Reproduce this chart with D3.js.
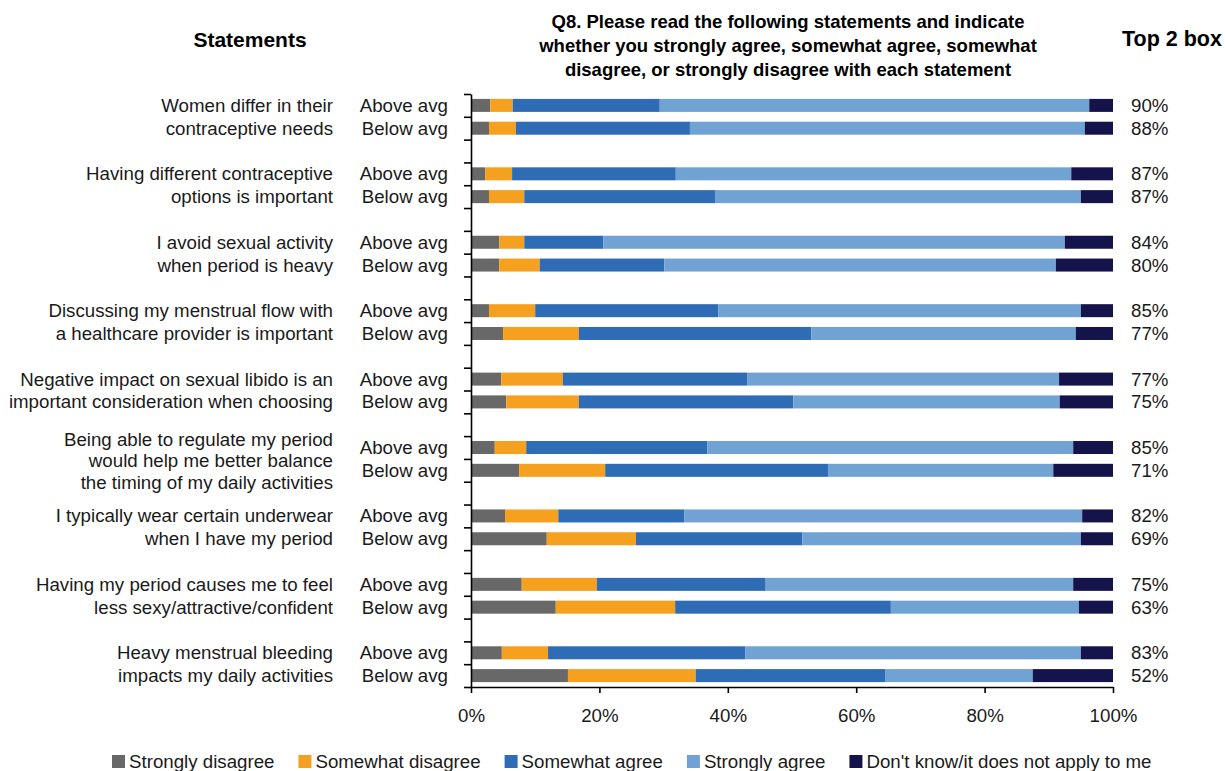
<!DOCTYPE html>
<html>
<head>
<meta charset="utf-8">
<script src="https://cdn.jsdelivr.net/npm/d3@7"></script>
<style>
  body { margin: 0; background: #fff; }
  svg { font-family: "Liberation Sans", Arial, sans-serif; }
</style>
</head>
<body>
<div id="chart"></div>
<script>
// statements (one entry per group, split in display lines)
const statements = [
  ["Women differ in their", "contraceptive needs"],
  ["Having different contraceptive", "options is important"],
  ["I avoid sexual activity", "when period is heavy"],
  ["Discussing my menstrual flow with", "a healthcare provider is important"],
  ["Negative impact on sexual libido is an", "important consideration when choosing"],
  ["Being able to regulate my period", "would help me better balance", "the timing of my daily activities"],
  ["I typically wear certain underwear", "when I have my period"],
  ["Having my period causes me to feel", "less sexy/attractive/confident"],
  ["Heavy menstrual bleeding", "impacts my daily activities"],
];
const subgroups = ["Above avg", "Below avg"];
const seriesNames = ["Strongly disagree", "Somewhat disagree", "Somewhat agree", "Strongly agree", "Don't know/it does not apply to me"];
const seriesColours = ["#676867", "#f5a01f", "#2e6cb5", "#70a2d4", "#15134b"];

// one value per bar, in order: group1 above, group1 below, group2 above, ...
const stronglyDisagree = [3.0, 2.8, 2.2, 2.8, 4.4, 4.4, 2.8, 5.0, 4.7, 5.5, 3.7, 7.5, 5.3, 11.8, 7.9, 13.2, 4.8, 15.1];
const somewhatDisagree = [3.5, 4.2, 4.2, 5.5, 3.9, 6.3, 7.2, 11.8, 9.6, 11.3, 4.9, 13.4, 8.3, 13.9, 11.7, 18.6, 7.2, 19.9];
const somewhatAgree = [22.9, 27.1, 25.5, 29.7, 12.3, 19.4, 28.5, 36.2, 28.7, 33.4, 28.2, 34.7, 19.6, 25.9, 26.3, 33.6, 30.7, 29.5];
const stronglyAgree = [66.9, 61.5, 61.6, 57.0, 71.9, 61.0, 56.5, 41.2, 48.6, 41.5, 57.0, 35.1, 62.0, 43.4, 47.9, 29.3, 52.3, 23.0];
const dontKnow = [3.7, 4.4, 6.5, 5.0, 7.5, 8.9, 5.0, 5.8, 8.4, 8.3, 6.2, 9.3, 4.8, 5.0, 6.2, 5.3, 5.0, 12.5];
const top2 = [90, 88, 87, 87, 84, 80, 85, 77, 77, 75, 85, 71, 82, 69, 75, 63, 83, 52];

const xTicks = [0, 20, 40, 60, 80, 100];

const title = [
  "Q8. Please read the following statements and indicate",
  "whether you strongly agree, somewhat agree, somewhat",
  "disagree, or strongly disagree with each statement",
];

// ---- build rows
const keys = ["sd", "swd", "swa", "sa", "dk"];
const rows = stronglyDisagree.map((d, i) => ({
  group: Math.floor(i / 2),
  sub: i % 2,
  slot: Math.floor(i / 2) * 3 + (i % 2),
  sd: d,
  swd: somewhatDisagree[i],
  swa: somewhatAgree[i],
  sa: stronglyAgree[i],
  dk: dontKnow[i],
  top2: top2[i],
}));
const nSlots = statements.length * 3 - 1;

const width = 1225, height = 771;
const plot = { left: 471, right: 1113, top: 94, bottom: 687 };
const fontSize = "18.7px";

const svg = d3.select("#chart").append("svg")
  .attr("width", width)
  .attr("height", height);

const x = d3.scaleLinear().domain([0, 100]).range([plot.left, plot.right]);
const ySlot = d3.scaleLinear().domain([0, nSlots]).range([plot.top, plot.bottom]);
const yBand = d3.scaleBand()
  .domain(d3.range(nSlots))
  .range([plot.top, plot.bottom])
  .paddingInner(0.43)
  .paddingOuter(0.215);

const colour = d3.scaleOrdinal().domain(keys).range(seriesColours);
const stacked = d3.stack().keys(keys)(rows);

// bars
svg.append("g")
  .selectAll("g")
  .data(stacked)
  .join("g")
  .attr("fill", (d) => colour(d.key))
  .selectAll("rect")
  .data((d) => d)
  .join("rect")
  .attr("x", (d) => x(d[0]))
  .attr("width", (d) => x(d[1]) - x(d[0]))
  .attr("y", (d) => yBand(d.data.slot))
  .attr("height", yBand.bandwidth());

// y axis with ticks at slot boundaries
const yAxis = svg.append("g")
  .attr("transform", `translate(${plot.left},0)`)
  .call(d3.axisLeft(ySlot).tickValues(d3.range(nSlots + 1)).tickFormat("").tickSize(7).tickSizeOuter(0));
yAxis.select(".domain").attr("stroke", "#000").attr("stroke-width", 1.6);
yAxis.selectAll(".tick line").attr("stroke", "#000").attr("stroke-width", 1.6);

// x axis
const xAxis = svg.append("g")
  .attr("transform", `translate(0,${plot.bottom})`)
  .call(d3.axisBottom(x).tickValues(xTicks).tickFormat((d) => d + "%").tickSize(6).tickSizeOuter(0).tickPadding(16));
xAxis.select(".domain").attr("stroke", "#000").attr("stroke-width", 1.6);
xAxis.selectAll(".tick line").attr("stroke", "#000").attr("stroke-width", 1.6);
xAxis.selectAll("text")
  .style("font-size", fontSize)
  .style("font-family", "'Liberation Sans', Arial, sans-serif")
  .attr("fill", "#1a1a1a");

const slotCenter = (s) => yBand(s) + yBand.bandwidth() / 2;

// sub-group labels
svg.append("g")
  .selectAll("text")
  .data(rows)
  .join("text")
  .attr("x", 448)
  .attr("y", (d) => slotCenter(d.slot))
  .attr("text-anchor", "end")
  .attr("dominant-baseline", "central")
  .style("font-size", fontSize)
  .attr("fill", "#1a1a1a")
  .text((d) => subgroups[d.sub]);

// top 2 box values
svg.append("g")
  .selectAll("text")
  .data(rows)
  .join("text")
  .attr("x", 1131)
  .attr("y", (d) => slotCenter(d.slot))
  .attr("dominant-baseline", "central")
  .style("font-size", fontSize)
  .attr("fill", "#1a1a1a")
  .text((d) => d.top2 + "%");

// statement labels
const stmt = svg.append("g")
  .selectAll("text")
  .data(statements)
  .join("text")
  .attr("text-anchor", "end")
  .style("font-size", fontSize)
  .attr("fill", "#1a1a1a");
stmt.each(function (lines, g) {
  const mid = (slotCenter(g * 3) + slotCenter(g * 3 + 1)) / 2 + (lines.length > 2 ? 2 : 0);
  const step = lines.length > 2 ? 21.5 : slotCenter(1) - slotCenter(0);
  d3.select(this)
    .selectAll("tspan")
    .data(lines)
    .join("tspan")
    .attr("x", 333)
    .attr("y", (d, i) => mid + (i - (lines.length - 1) / 2) * step)
    .attr("dominant-baseline", "central")
    .text((d) => d);
});

// headers
svg.append("text")
  .attr("x", 250).attr("y", 39)
  .attr("text-anchor", "middle").attr("dominant-baseline", "central")
  .style("font-size", "21px").style("font-weight", "bold")
  .text("Statements");
svg.append("text")
  .attr("x", 1172).attr("y", 39)
  .attr("text-anchor", "middle").attr("dominant-baseline", "central")
  .style("font-size", "21.5px").style("font-weight", "bold")
  .text("Top 2 box");
svg.append("g")
  .selectAll("text")
  .data(title)
  .join("text")
  .attr("x", 788)
  .attr("y", (d, i) => 21 + i * 24)
  .attr("text-anchor", "middle").attr("dominant-baseline", "central")
  .style("font-size", "18.5px").style("font-weight", "bold")
  .text((d) => d);

// legend
const legend = svg.append("g").attr("transform", "translate(112,761)");
let lx = 0;
seriesNames.forEach((name, i) => {
  const item = legend.append("g").attr("transform", `translate(${lx},0)`);
  item.append("rect")
    .attr("x", 0).attr("y", -6)
    .attr("width", 13).attr("height", 13)
    .attr("fill", seriesColours[i]);
  const t = item.append("text")
    .attr("x", 17).attr("y", 0)
    .attr("dominant-baseline", "central")
    .style("font-size", fontSize)
    .attr("fill", "#1a1a1a")
    .text(name);
  lx += 17 + t.node().getComputedTextLength() + 24;
});
</script>
</body>
</html>
